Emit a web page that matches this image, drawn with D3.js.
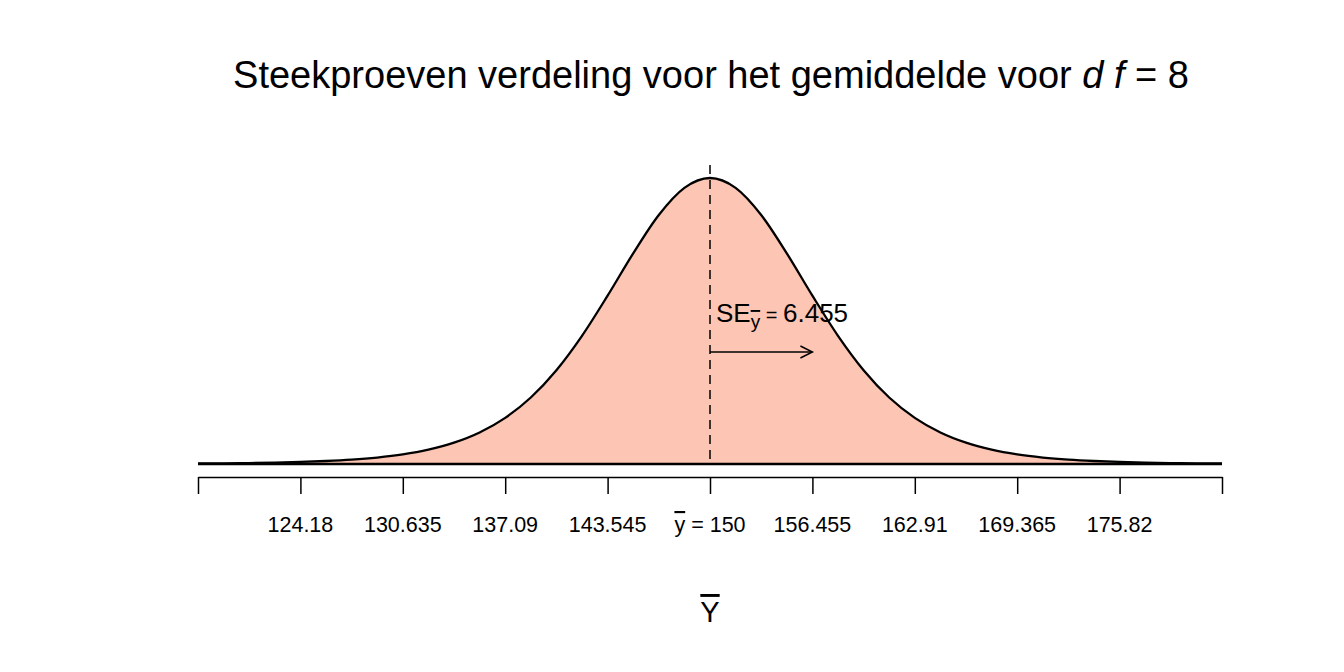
<!DOCTYPE html>
<html lang="nl">
<head>
<meta charset="utf-8">
<title>Steekproeven verdeling</title>
<script src="https://d3js.org/d3.v7.min.js"></script>
<style>
  body { margin: 0; background: #fff; }
  text { font-family: "Liberation Sans", Arial, Helvetica, sans-serif; fill: #000; }
</style>
</head>
<body>
<script>
// distribution settings
var mean = 150;
var se = 6.455;

// t-values (in SE units) and density of the sampling distribution (df = 8)
var tValues = [-5, -4.75, -4.5, -4.25, -4, -3.75, -3.5, -3.25, -3, -2.75, -2.5, -2.25, -2, -1.75, -1.5, -1.25, -1, -0.75, -0.5, -0.25,
               0, 0.25, 0.5, 0.75, 1, 1.25, 1.5, 1.75, 2, 2.25, 2.5, 2.75, 3, 3.25, 3.5, 3.75, 4, 4.25, 4.5, 4.75, 5];
var density = [0.0007, 0.00093, 0.0013, 0.0019, 0.0028, 0.00403, 0.0059, 0.00876, 0.0130, 0.0194, 0.0288, 0.0426, 0.0624, 0.0899, 0.1268, 0.1733, 0.2276, 0.2848, 0.3367, 0.3734,
               0.3867, 0.3734, 0.3367, 0.2848, 0.2276, 0.1733, 0.1268, 0.0899, 0.0624, 0.0426, 0.0288, 0.0194, 0.0130, 0.00876, 0.0059, 0.00403, 0.0028, 0.0019, 0.0013, 0.00093, 0.0007];

// axis ticks and labels
var tickValues = [117.725, 124.18, 130.635, 137.09, 143.545, 150, 156.455, 162.91, 169.365, 175.82, 182.275];
var tickLabels = ["", "124.18", "130.635", "137.09", "143.545", "ybar", "156.455", "162.91", "169.365", "175.82", ""];

var width = 1344, height = 672;

var svg = d3.select("body").append("svg")
  .attr("width", width)
  .attr("height", height);

var x = d3.scaleLinear().domain([117.725, 182.275]).range([198, 1222]);
var y = d3.scaleLinear().domain([0, 0.3867]).range([464, 178]);

var pts = tValues.map(function(t, i) { return { v: mean + t * se, d: density[i] }; });

// filled area
svg.append("path")
  .datum(pts)
  .attr("fill", "#FDC5B3")
  .attr("d", d3.area()
    .x(function(d) { return x(d.v); })
    .y0(y(0))
    .y1(function(d) { return y(d.d); })
    .curve(d3.curveMonotoneX));

// curve
svg.append("path")
  .datum(pts)
  .attr("fill", "none")
  .attr("stroke", "#000")
  .attr("stroke-width", 2.3)
  .attr("d", d3.line()
    .x(function(d) { return x(d.v); })
    .y(function(d) { return y(d.d); })
    .curve(d3.curveMonotoneX));

// baseline
svg.append("line")
  .attr("x1", x(117.725)).attr("x2", x(182.275))
  .attr("y1", y(0)).attr("y2", y(0))
  .attr("stroke", "#000").attr("stroke-width", 2.3);

// dashed mean line
svg.append("line")
  .attr("x1", x(mean)).attr("x2", x(mean))
  .attr("y1", 165).attr("y2", y(0))
  .attr("stroke", "#000").attr("stroke-width", 1.5)
  .attr("stroke-dasharray", "9,6");

// x axis
var axis = d3.axisBottom(x)
  .tickValues(tickValues)
  .tickSize(17)
  .tickSizeOuter(0)
  .tickFormat("");

var gAxis = svg.append("g")
  .attr("transform", "translate(0,477)")
  .call(axis);
gAxis.select(".domain").attr("stroke-width", 1.5);
gAxis.selectAll(".tick line").attr("stroke-width", 1.5);

// tick labels
var labels = svg.append("g");
tickValues.forEach(function(v, i) {
  var lab = tickLabels[i];
  if (lab === "") return;
  var t = labels.append("text")
    .attr("x", x(v))
    .attr("y", 532)
    .attr("text-anchor", "middle")
    .attr("font-size", 21.5);
  if (lab === "ybar") {
    t.append("tspan").attr("text-decoration", "overline").text("y");
    t.append("tspan").text(" = 150");
  } else {
    t.text(lab);
  }
});

// title
var title = svg.append("text")
  .attr("x", 711)
  .attr("y", 88)
  .attr("text-anchor", "middle")
  .attr("font-size", 38);
title.append("tspan").text("Steekproeven verdeling voor het gemiddelde voor ");
title.append("tspan").attr("font-style", "italic").text("d f");
title.append("tspan").text(" = 8");

// SE annotation
var se_lab = svg.append("text")
  .attr("x", 716)
  .attr("y", 322)
  .attr("font-size", 26);
se_lab.append("tspan").text("SE");
se_lab.append("tspan").attr("font-size", 19).attr("dy", 6).attr("text-decoration", "overline").text("y");
se_lab.append("tspan").attr("dy", -6).attr("font-size", 20).text(" = ");
se_lab.append("tspan").text("6.455");

// arrow of one SE
svg.append("line")
  .attr("x1", x(mean)).attr("x2", x(mean + se))
  .attr("y1", 352).attr("y2", 352)
  .attr("stroke", "#000").attr("stroke-width", 1.5);
svg.append("path")
  .attr("d", "M" + (x(mean + se) - 12) + "," + 346 + "L" + x(mean + se) + ",352L" + (x(mean + se) - 12) + ",358")
  .attr("fill", "none")
  .attr("stroke", "#000").attr("stroke-width", 1.5);

// x axis title
svg.append("text")
  .attr("x", 710)
  .attr("y", 622)
  .attr("text-anchor", "middle")
  .attr("font-size", 29)
  .attr("text-decoration", "overline")
  .text("Y");
</script>
</body>
</html>
